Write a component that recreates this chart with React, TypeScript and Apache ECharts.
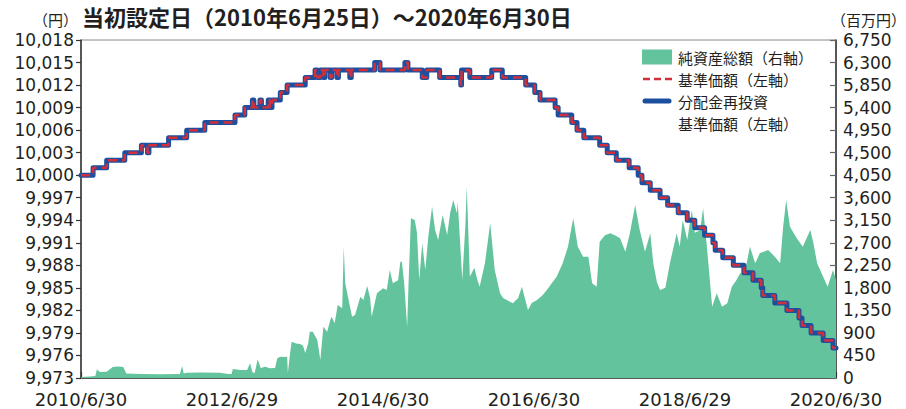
import React, { useEffect, useRef } from "react";
import * as echarts from "echarts";

const START_YEAR = 2010.5;
const xTickLabels = ["2010/6/30", "2012/6/29", "2014/6/30", "2016/6/30", "2018/6/29", "2020/6/30"];
const leftTicks = [9973, 9976, 9979, 9982, 9985, 9988, 9991, 9994, 9997, 10000, 10003, 10006, 10009, 10012, 10015, 10018];
const rightTicks = [0, 450, 900, 1350, 1800, 2250, 2700, 3150, 3600, 4050, 4500, 4950, 5400, 5850, 6300, 6750];

const titleText = "当初設定日（2010年6月25日）～2020年6月30日";
const legendNames = ["純資産総額（右軸）", "基準価額（左軸）", "分配金再投資", "基準価額（左軸）"];

// 基準価額 change points (decimal year, yen)
const navYears = [
  2010.50, 2010.66, 2010.84, 2011.08, 2011.30, 2011.38, 2011.40, 2011.66, 2011.90, 2012.14,
  2012.54, 2012.67, 2012.77, 2012.79, 2012.87, 2012.89, 2012.98, 2013.00, 2013.03, 2013.14,
  2013.23, 2013.47, 2013.60, 2013.63, 2013.67, 2013.71, 2013.73, 2013.80, 2013.82, 2013.89,
  2013.91, 2014.06, 2014.08, 2014.39, 2014.46, 2014.79, 2014.83, 2015.02, 2015.08, 2015.25,
  2015.53, 2015.54, 2015.65, 2015.94, 2016.08, 2016.39, 2016.51, 2016.58, 2016.78, 2016.82,
  2017.00, 2017.07, 2017.16, 2017.37, 2017.47, 2017.59, 2017.76, 2017.88, 2017.93, 2018.04,
  2018.17, 2018.27, 2018.41, 2018.53, 2018.63, 2018.76, 2018.87, 2018.90, 2019.00, 2019.14,
  2019.28, 2019.40, 2019.51, 2019.53, 2019.69, 2019.85, 2020.01, 2020.05, 2020.17, 2020.33,
  2020.46, 2020.50,
];
const navValues = [
  10000, 10001, 10002, 10003, 10004, 10003, 10004, 10005, 10006, 10007,
  10008, 10009, 10010, 10009, 10010, 10009, 10010, 10009, 10010, 10011,
  10012, 10013, 10014, 10013, 10014, 10013, 10014, 10013, 10014, 10013,
  10014, 10013, 10014, 10015, 10014, 10015, 10014, 10013, 10014, 10013,
  10012, 10014, 10013, 10014, 10013, 10012, 10011, 10010, 10009, 10008,
  10007, 10006, 10005, 10004, 10003, 10002, 10001, 10000, 9999, 9998,
  9997, 9996, 9995, 9994, 9993, 9992, 9991, 9990, 9989, 9988,
  9987, 9986, 9985, 9984, 9983, 9982, 9981, 9980, 9979, 9978,
  9977, 9977,
];
// 分配金再投資基準価額 (identical to 基準価額 in the picture)
const reinvestValues = [
  10000, 10001, 10002, 10003, 10004, 10003, 10004, 10005, 10006, 10007,
  10008, 10009, 10010, 10009, 10010, 10009, 10010, 10009, 10010, 10011,
  10012, 10013, 10014, 10013, 10014, 10013, 10014, 10013, 10014, 10013,
  10014, 10013, 10014, 10015, 10014, 10015, 10014, 10013, 10014, 10013,
  10012, 10014, 10013, 10014, 10013, 10012, 10011, 10010, 10009, 10008,
  10007, 10006, 10005, 10004, 10003, 10002, 10001, 10000, 9999, 9998,
  9997, 9996, 9995, 9994, 9993, 9992, 9991, 9990, 9989, 9988,
  9987, 9986, 9985, 9984, 9983, 9982, 9981, 9980, 9979, 9978,
  9977, 9977,
];

// 純資産総額 (decimal year, 百万円)
const assetYears = [
  2010.50, 2010.62, 2010.69, 2010.71, 2010.75, 2010.84, 2010.92, 2010.99, 2011.06, 2011.10,
  2011.28, 2011.55, 2011.81, 2011.84, 2011.86, 2011.90, 2012.08, 2012.34, 2012.45, 2012.50,
  2012.51, 2012.61, 2012.70, 2012.74, 2012.77, 2012.80, 2012.84, 2012.88, 2012.94, 2013.00,
  2013.07, 2013.10, 2013.14, 2013.20, 2013.23, 2013.24, 2013.27, 2013.29, 2013.35, 2013.40,
  2013.44, 2013.47, 2013.51, 2013.53, 2013.57, 2013.63, 2013.67, 2013.71, 2013.76, 2013.80,
  2013.82, 2013.86, 2013.90, 2013.96, 2013.98, 2014.00, 2014.04, 2014.09, 2014.13, 2014.20,
  2014.24, 2014.29, 2014.33, 2014.35, 2014.42, 2014.50, 2014.55, 2014.59, 2014.63, 2014.70,
  2014.73, 2014.75, 2014.78, 2014.82, 2014.84, 2014.87, 2014.92, 2014.95, 2014.98, 2015.02,
  2015.06, 2015.10, 2015.15, 2015.19, 2015.23, 2015.29, 2015.35, 2015.39, 2015.43, 2015.48,
  2015.49, 2015.55, 2015.59, 2015.61, 2015.65, 2015.71, 2015.75, 2015.78, 2015.85, 2015.92,
  2015.98, 2016.05, 2016.09, 2016.14, 2016.22, 2016.29, 2016.34, 2016.42, 2016.47, 2016.54,
  2016.61, 2016.67, 2016.74, 2016.80, 2016.88, 2016.95, 2017.02, 2017.08, 2017.15, 2017.22,
  2017.27, 2017.33, 2017.37, 2017.44, 2017.51, 2017.57, 2017.64, 2017.71, 2017.77, 2017.84,
  2017.90, 2017.97, 2018.04, 2018.08, 2018.13, 2018.17, 2018.24, 2018.30, 2018.39, 2018.43,
  2018.47, 2018.53, 2018.59, 2018.63, 2018.70, 2018.74, 2018.79, 2018.86, 2018.92, 2018.99,
  2019.06, 2019.12, 2019.18, 2019.23, 2019.29, 2019.36, 2019.43, 2019.49, 2019.60, 2019.69,
  2019.76, 2019.80, 2019.84, 2019.89, 2019.98, 2020.06, 2020.16, 2020.20, 2020.25, 2020.33,
  2020.39, 2020.46, 2020.50,
];
const assetValues = [
  20, 30, 40, 170, 120, 126, 220, 230, 220, 90,
  80, 75, 80, 240, 90, 106, 110, 106, 80, 80,
  180, 160, 160, 293, 120, 93, 373, 200, 226, 193,
  200, 393, 426, 420, 426, 106, 500, 725, 690, 680,
  650, 500, 700, 925, 925, 760, 360, 1025, 925, 1150,
  1225, 1092, 1458, 1392, 2622, 1891, 1591, 1225, 1258, 1624,
  1558, 1837, 1600, 1225, 1691, 1791, 1757, 2157, 1891, 1950,
  2323, 2323, 1900, 1025, 1957, 3189, 3155, 2900, 1957, 2690,
  2157, 2822, 3421, 2956, 2756, 3255, 2856, 3300, 3555, 3289,
  3521, 1957, 3022, 3821, 2023, 2200, 1957, 1824, 2290, 3089,
  2157, 1691, 1600, 1558, 1491, 1600, 1824, 1358, 1500, 1558,
  1650, 1757, 1900, 2023, 2290, 2622, 3189, 2622, 2423, 2423,
  1891, 1824, 2722, 2850, 2890, 2850, 2790, 2523, 2890, 3455,
  2956, 2523, 2890, 2290, 1900, 1757, 1800, 2290, 2890, 2622,
  3155, 2756, 3355, 2900, 2950, 3389, 2622, 1425, 1691, 1425,
  1491, 1824, 1950, 2090, 2090, 2622, 2290, 2490, 2556, 2423,
  2290, 3022, 3555, 3022, 2790, 2622, 2956, 2700, 2290, 2023,
  1824, 2157, 1957,
];

const NUM_FONT = "'DejaVu Sans', sans-serif";
const CJK_FONT = "'Noto Sans CJK JP', sans-serif";
const TEXT_COLOR = "#231f20";
const GREEN = "#62c39c";
const BLUE = "#1d4f9f";
const RED = "#d12f3b";

export default function App() {
  const ref = useRef<HTMLDivElement>(null);

  useEffect(() => {
    if (!ref.current) return;
    const chart = echarts.init(ref.current, undefined, { renderer: "svg" });
    const toX = (t: number) => t - START_YEAR;
    const assetData = assetYears.map((t, i) => [toX(t), assetValues[i]]);
    const navData = navYears.map((t, i) => [toX(t), navValues[i]]);
    const reinvestData = navYears.map((t, i) => [toX(t), reinvestValues[i]]);
    const fmt = (v: number) => Math.round(v).toLocaleString("en-US");
    const legendY = [57, 79, 101, 123];

    const option: any = {
      animation: false,
      grid: {
        left: 81,
        right: 70,
        top: 40,
        bottom: 31,
        show: true,
        borderColor: "#8a8a8a",
        borderWidth: 1,
        backgroundColor: "transparent",
        containLabel: false,
        outerBoundsMode: "none",
      },
      xAxis: {
        type: "value",
        min: 0,
        max: 10,
        interval: 2,
        axisLine: { show: true, lineStyle: { color: "#333", width: 1.5 } },
        axisTick: { show: true, inside: true, length: 6, lineStyle: { color: "#333", width: 1.2 } },
        splitLine: { show: false },
        axisLabel: {
          margin: 12,
          fontSize: 18,
          fontFamily: NUM_FONT,
          color: TEXT_COLOR,
          formatter: (v: number) => xTickLabels[Math.round(v / 2)] ?? "",
        },
      },
      yAxis: [
        {
          type: "value",
          min: 9973,
          max: 10018,
          interval: 3,
          position: "left",
          axisLine: { show: true, lineStyle: { color: "#333", width: 1.5 } },
          axisTick: {
            show: true,
            inside: false,
            length: 5,
            customValues: leftTicks,
            lineStyle: { color: "#333", width: 1.2 },
          },
          splitLine: { show: false },
          axisLabel: {
            margin: 7,
            fontSize: 17,
            fontFamily: NUM_FONT,
            color: TEXT_COLOR,
            customValues: leftTicks,
            formatter: (v: number) => fmt(v),
          },
        },
        {
          type: "value",
          min: 0,
          max: 6750,
          interval: 450,
          position: "right",
          axisLine: { show: true, lineStyle: { color: "#333", width: 1.5 } },
          axisTick: {
            show: true,
            inside: true,
            length: 6,
            customValues: rightTicks,
            lineStyle: { color: "#666", width: 1.2 },
          },
          splitLine: { show: false },
          axisLabel: {
            margin: 7,
            fontSize: 17,
            fontFamily: NUM_FONT,
            color: TEXT_COLOR,
            customValues: rightTicks,
            formatter: (v: number) => fmt(v),
          },
        },
      ],
      series: [
        {
          name: legendNames[0],
          type: "line",
          yAxisIndex: 1,
          data: assetData,
          symbol: "none",
          lineStyle: { width: 0, color: GREEN },
          areaStyle: { color: GREEN, opacity: 1 },
          z: 1,
        },
        {
          name: "分配金再投資基準価額（左軸）",
          type: "line",
          yAxisIndex: 0,
          data: reinvestData,
          step: "end",
          symbol: "none",
          lineStyle: { width: 5, color: BLUE, join: "round", cap: "round" },
          z: 3,
        },
        {
          name: legendNames[1],
          type: "line",
          yAxisIndex: 0,
          data: navData,
          step: "end",
          symbol: "none",
          lineStyle: { width: 2.5, color: RED, type: [9, 5] },
          z: 4,
        },
      ],
      graphic: [
        {
          type: "text",
          left: 82,
          top: 5,
          style: {
            text: titleText,
            font: `bold 22px ${CJK_FONT}`,
            fill: TEXT_COLOR,
          },
        },
        {
          type: "text",
          x: 78,
          y: 19,
          style: {
            text: "（円）",
            font: `15px ${CJK_FONT}`,
            fill: TEXT_COLOR,
            align: "right",
            verticalAlign: "middle",
          },
        },
        {
          type: "text",
          x: 906,
          y: 19,
          style: {
            text: "（百万円）",
            font: `15px ${CJK_FONT}`,
            fill: TEXT_COLOR,
            align: "right",
            verticalAlign: "middle",
          },
        },
        {
          type: "rect",
          shape: { x: 642, y: legendY[0] - 7.5, width: 30, height: 15 },
          style: { fill: GREEN },
        },
        {
          type: "line",
          shape: { x1: 643, y1: legendY[1], x2: 672, y2: legendY[1] },
          style: { stroke: RED, lineWidth: 2.5, lineDash: [7, 4] },
        },
        {
          type: "line",
          shape: { x1: 645, y1: legendY[2], x2: 669, y2: legendY[2] },
          style: { stroke: BLUE, lineWidth: 5, lineCap: "round" },
        },
        ...legendNames.map((name, i) => ({
          type: "text",
          x: 678,
          y: legendY[i],
          style: {
            text: name,
            font: `15px ${CJK_FONT}`,
            fill: TEXT_COLOR,
            align: "left",
            verticalAlign: "middle",
          },
        })),
      ],
    };
    chart.setOption(option);
    return () => chart.dispose();
  }, []);

  return (
    <div
      ref={ref}
      style={{ position: "fixed", left: 0, top: 0, width: 906, height: 409, background: "#fff" }}
    />
  );
}
